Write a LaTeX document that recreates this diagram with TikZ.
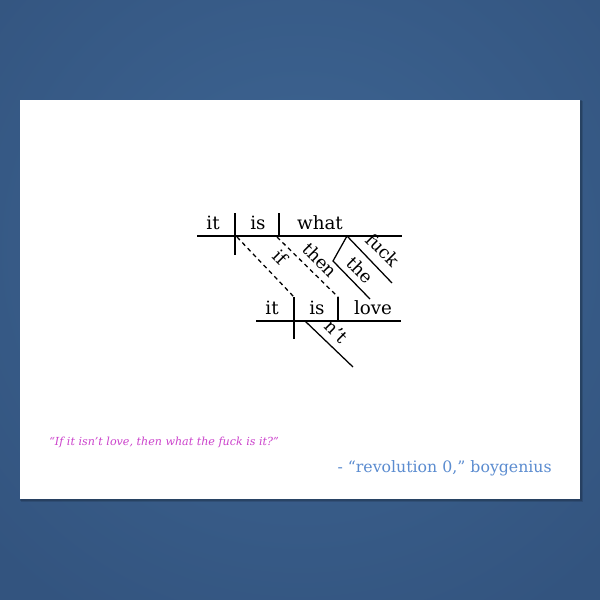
\documentclass[tikz,border=0pt]{standalone}
\usepackage{fontspec}
\setmainfont{DejaVu Serif}
\usepackage{xcolor}
\usetikzlibrary{calc}

\definecolor{bgmid}{HTML}{3E6694}
\definecolor{bgedge}{HTML}{33547F}
\definecolor{quotepink}{HTML}{CC44CC}
\definecolor{creditblue}{HTML}{5B8CD0}

\begin{document}
\begin{tikzpicture}[
  x=0.025cm, y=-0.025cm,
  font=\fontsize{13}{15}\selectfont,
  word/.style={inner sep=1pt, anchor=base},
  slant/.style={inner sep=1pt, rotate=-45, font=\fontsize{12.5}{14}\selectfont},
  rule/.style={line width=0.9pt},
  dotted rule/.style={line width=0.9pt, dash pattern=on 3pt off 2.5pt}
]
% Background and card
\useasboundingbox (0,0) rectangle (600,600);
\begin{scope}
  \clip (0,0) rectangle (600,600);
  \fill[bgedge] (0,0) rectangle (600,600);
  \shade[inner color=bgmid, outer color=bgedge] (300,250) circle (430);
\end{scope}
\fill[black, opacity=0.12] (21,101) rectangle (583,502);
\fill[black, opacity=0.15] (20,100) rectangle (581.5,500.5);
\fill[white] (20,100) rectangle (580,499);

% Main clause
\coordinate (top L) at (197,236);
\coordinate (top R) at (402,236);
\draw[rule] (top L) -- (top R);
\draw[rule] (235,213) -- (235,255);
\draw[rule] (279,213) -- (279,236);
\node[word] (it1)   at (213,229) {it};
\node[word] (is1)   at (258,229) {is};
\node[word] (what1) at (320,229) {what};

% Modifiers of what
\coordinate (wh) at (347,236);
\draw[rule] (wh) -- (392,283);
\draw[rule] (wh) -- (333,261) -- (370,299);
\node[slant] (fuck) at (383,250) {fuck};
\node[slant] (the)  at (360,270) {the};

% Subordinate clause
\draw[rule] (256,321) -- (401,321);
\draw[rule] (294,297) -- (294,339);
\draw[rule] (338,297) -- (338,321);
\node[word] (it2)   at (272,314) {it};
\node[word] (is2)   at (317,314) {is};
\node[word] (love2) at (373,314) {love};
\draw[rule] (305,321) -- (353,367);
\node[slant] (nt) at (336,332) {n't};

% Connectives
\draw[dotted rule] (237,237) -- (294,297);
\draw[dotted rule] (277,237) -- (338,297);
\node[slant] (if)   at (281,257) {if};
\node[slant] (then) at (320,260) {then};

% Quote and credit
\node[anchor=base west, inner sep=0pt, text=quotepink, font=\fontsize{7.9}{9}\selectfont\itshape]
  (quote) at (49,445) {“If it isn’t love, then what the fuck is it?”};
\node[anchor=base east, inner sep=0pt, text=creditblue, font=\fontsize{11.2}{13}\selectfont]
  (credit) at (552,472) {- “revolution 0,” boygenius};
\end{tikzpicture}
\end{document}
